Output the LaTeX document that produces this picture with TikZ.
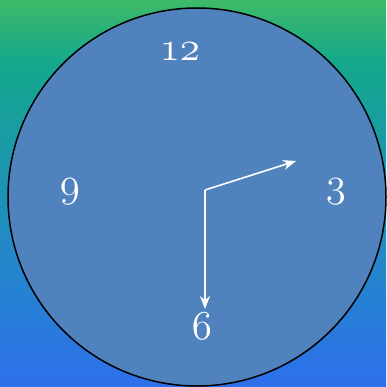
\RequirePackage{fix-cm}
\documentclass[tikz,border=0pt]{standalone}
\usepackage{xcolor}
\usepackage{tikz}
\usetikzlibrary{arrows.meta, positioning}

\definecolor{skytop}{RGB}{62,186,104}
\definecolor{skyteal}{RGB}{20,168,140}
\definecolor{skymid}{RGB}{30,145,185}
\definecolor{skybot}{RGB}{46,112,236}
\definecolor{faceblue}{RGB}{80,130,190}

% stops in 25bp..75bp cover the shaded rectangle
\pgfdeclareverticalshading{sky}{100bp}{
  color(0bp)=(skybot); color(25bp)=(skybot); color(49bp)=(skymid);
  color(67bp)=(skyteal); color(75bp)=(skytop); color(100bp)=(skytop)}

\begin{document}
\begin{tikzpicture}[
    x=1pt, y=-1pt,
    face/.style={circle, draw=black, line width=1.5pt, fill=faceblue, minimum size=378pt, inner sep=0pt},
    numeral/.style={text=white, inner sep=0pt, anchor=base, font=\fontsize{41}{41}\selectfont},
    hand/.style={-{Stealth[length=13pt, width=10pt]}, draw=white, line width=1.6pt}
]

% Background
\useasboundingbox (0pt,0pt) rectangle (386pt,-387pt);
\shade[shading=sky] (0pt,0pt) rectangle (386pt,-387pt);

% Face
\node[face] (dial) at (197,197) {};

% Numerals
\node[numeral] (n12) at (180,61) {$\oldstylenums{12}$};
\node[numeral] (n3) at (336,196) {$\oldstylenums{3}$};
\node[numeral] (n6) at (202,339) {$\oldstylenums{6}$};
\node[numeral] (n9) at (70,196) {$\oldstylenums{9}$};

% Hands
\coordinate (hub) at (205,190);
\coordinate (tipA) at (296,161);
\coordinate (tipB) at (205,309);
\draw[hand] (hub) -- (tipA);
\draw[hand] (hub) -- (tipB);

\end{tikzpicture}
\end{document}
